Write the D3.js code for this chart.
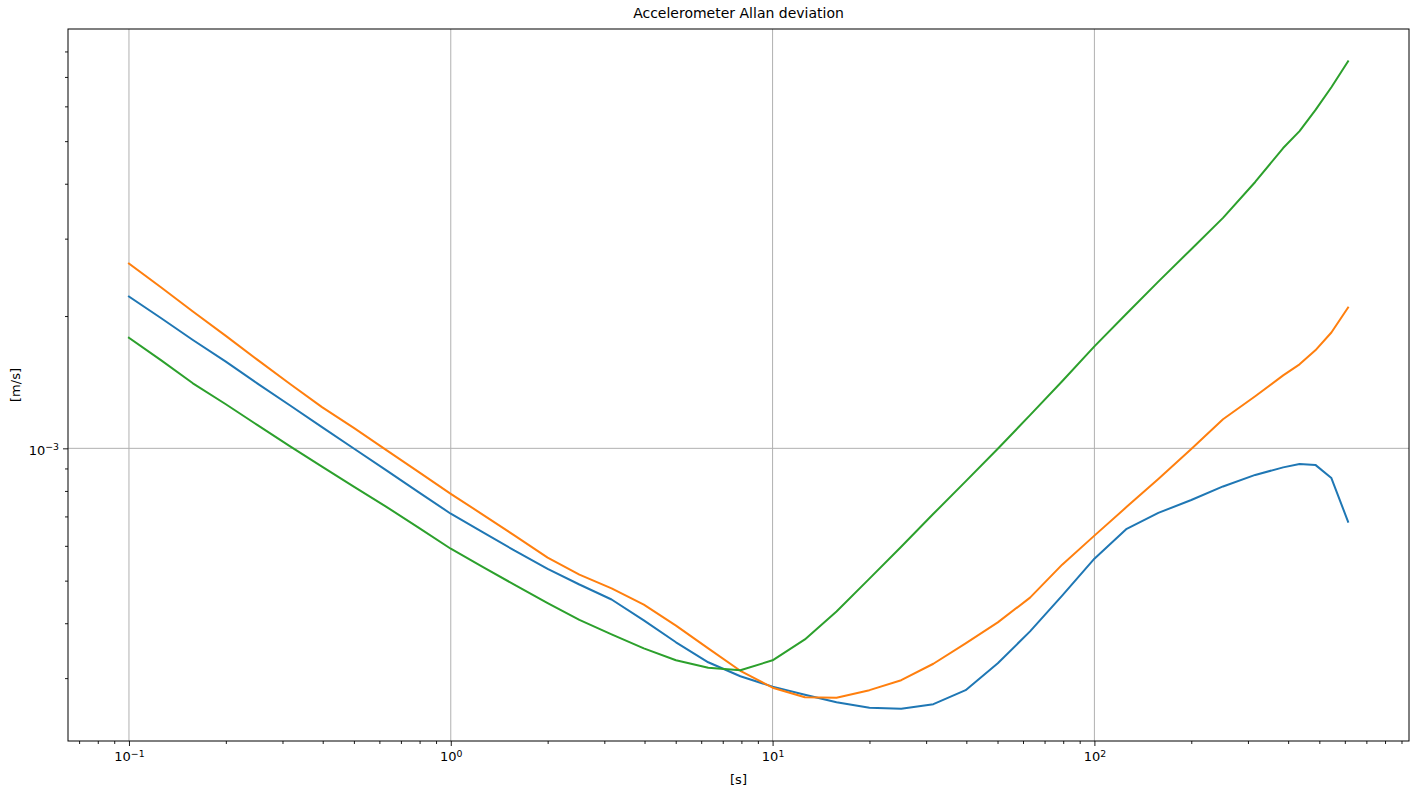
<!DOCTYPE html>
<html>
<head>
<meta charset="utf-8">
<script src="https://cdn.jsdelivr.net/npm/d3@7"></script>
<style>
  body { margin: 0; background: #fff; }
  svg { display: block; font-family: "DejaVu Sans", sans-serif; }
</style>
</head>
<body>
<svg id="chart" width="1416" height="792"></svg>
<script>
// averaging times [s]
const taus = [0.1, 0.126, 0.158, 0.2, 0.251, 0.316, 0.398, 0.501, 0.631, 0.794,
  1, 1.26, 1.58, 2, 2.51, 3.16, 3.98, 5.01, 6.31, 7.94,
  10, 12.6, 15.8, 20, 25.1, 31.6, 39.8, 50.1, 63.1, 79.4,
  100, 126, 158, 200, 251, 316, 386, 434, 486, 545, 614];

// allan deviation per axis [m/s]
const devX = [2.215e-3, 1.977e-3, 1.764e-3, 1.575e-3, 1.404e-3, 1.253e-3, 1.118e-3, 0.998e-3, 0.891e-3, 0.795e-3,
  0.710e-3, 0.644e-3, 0.585e-3, 0.532e-3, 0.490e-3, 0.453e-3, 0.406e-3, 0.362e-3, 0.326e-3, 0.303e-3,
  0.287e-3, 0.275e-3, 0.2645e-3, 0.257e-3, 0.2557e-3, 0.2618e-3, 0.2817e-3, 0.3243e-3, 0.3833e-3, 0.4624e-3,
  0.561e-3, 0.656e-3, 0.713e-3, 0.763e-3, 0.819e-3, 0.870e-3, 0.905e-3, 0.921e-3, 0.917e-3, 0.856e-3, 0.681e-3];
const devY = [2.632e-3, 2.322e-3, 2.048e-3, 1.803e-3, 1.590e-3, 1.403e-3, 1.241e-3, 1.112e-3, 0.991e-3, 0.884e-3,
  0.788e-3, 0.706e-3, 0.633e-3, 0.564e-3, 0.516e-3, 0.480e-3, 0.441e-3, 0.395e-3, 0.3506e-3, 0.3118e-3,
  0.2853e-3, 0.2715e-3, 0.2708e-3, 0.2817e-3, 0.2968e-3, 0.3235e-3, 0.3599e-3, 0.4018e-3, 0.4575e-3, 0.5437e-3,
  0.633e-3, 0.736e-3, 0.852e-3, 0.996e-3, 1.165e-3, 1.314e-3, 1.466e-3, 1.553e-3, 1.671e-3, 1.835e-3, 2.091e-3];
const devZ = [1.785e-3, 1.586e-3, 1.406e-3, 1.260e-3, 1.129e-3, 1.012e-3, 0.909e-3, 0.817e-3, 0.736e-3, 0.660e-3,
  0.591e-3, 0.537e-3, 0.489e-3, 0.4446e-3, 0.407e-3, 0.3772e-3, 0.3506e-3, 0.3294e-3, 0.3167e-3, 0.3126e-3,
  0.3294e-3, 0.3675e-3, 0.4254e-3, 0.5053e-3, 0.5974e-3, 0.7096e-3, 0.841e-3, 0.998e-3, 1.190e-3, 1.421e-3,
  1.706e-3, 2.027e-3, 2.395e-3, 2.839e-3, 3.345e-3, 4.037e-3, 4.823e-3, 5.270e-3, 5.881e-3, 6.631e-3, 7.595e-3];

const seriesColors = ["#1f77b4", "#ff7f0e", "#2ca02c"];
const xDecades = [0.1, 1, 10, 100];
const yDecades = [1e-3];

const svg = d3.select("#chart");
const margin = { top: 29, right: 7, bottom: 51, left: 68 };
const W = +svg.attr("width"), H = +svg.attr("height");
const iw = W - margin.left - margin.right, ih = H - margin.top - margin.bottom;

// matplotlib style 5% margin in log space
function logPad(ext) {
  const a = Math.log10(ext[0]), b = Math.log10(ext[1]), m = (b - a) * 0.05;
  return [Math.pow(10, a - m), Math.pow(10, b + m)];
}
const allDev = devX.concat(devY, devZ);
const x = d3.scaleLog().domain(logPad(d3.extent(taus))).range([0, iw]);
const y = d3.scaleLog().domain(logPad(d3.extent(allDev))).range([ih, 0]);

const g = svg.append("g").attr("transform", `translate(${margin.left},${margin.top})`);

// minor tick values inside the domain
function minors(scale) {
  const [lo, hi] = scale.domain();
  const out = [];
  for (let e = Math.floor(Math.log10(lo)); e <= Math.ceil(Math.log10(hi)); e++)
    for (let k = 2; k <= 9; k++) {
      const v = k * Math.pow(10, e);
      if (v >= lo && v <= hi) out.push(v);
    }
  return out;
}

// grid
g.append("g").selectAll("line").data(xDecades).join("line")
  .attr("x1", d => x(d)).attr("x2", d => x(d)).attr("y1", 0).attr("y2", ih)
  .attr("stroke", "#b0b0b0").attr("stroke-width", 1);
g.append("g").selectAll("line").data(yDecades).join("line")
  .attr("y1", d => y(d)).attr("y2", d => y(d)).attr("x1", 0).attr("x2", iw)
  .attr("stroke", "#b0b0b0").attr("stroke-width", 1);

// lines
const line = d3.line().x((d, i) => x(taus[i])).y(d => y(d));
[devX, devY, devZ].forEach((s, k) => {
  g.append("path").datum(s).attr("d", line)
    .attr("fill", "none").attr("stroke", seriesColors[k])
    .attr("stroke-width", 2).attr("stroke-linejoin", "round").attr("stroke-linecap", "square");
});

// axes
function supLabel(sel) {
  sel.each(function (d) {
    const e = Math.round(Math.log10(d));
    const t = d3.select(this).text(null);
    t.append("tspan").text("10");
    t.append("tspan").attr("dy", "-0.5em").attr("font-size", "0.72em")
      .text(e < 0 ? "\u2212" + (-e) : String(e));
  });
}

const xAxis = g.append("g").attr("transform", `translate(0,${ih})`)
  .call(d3.axisBottom(x).tickValues(xDecades).tickSize(5).tickPadding(6).tickFormat(() => ""));
xAxis.selectAll(".tick text").call(supLabel);
g.append("g").attr("transform", `translate(0,${ih})`)
  .call(d3.axisBottom(x).tickValues(minors(x)).tickSize(3).tickFormat(""))
  .call(a => a.select(".domain").remove());

const yAxis = g.append("g")
  .call(d3.axisLeft(y).tickValues(yDecades).tickSize(5).tickPadding(4).tickFormat(() => ""));
yAxis.selectAll(".tick text").call(supLabel).attr("dy", "0.45em");
g.append("g")
  .call(d3.axisLeft(y).tickValues(minors(y)).tickSize(3).tickFormat(""))
  .call(a => a.select(".domain").remove());

svg.selectAll(".tick text").attr("font-size", 13).attr("fill", "#000")
  .attr("font-family", "DejaVu Sans, sans-serif");
svg.selectAll(".tick line").attr("stroke", "#000").attr("stroke-width", 0.9);
svg.selectAll(".domain").remove();

// frame
g.append("rect").attr("width", iw).attr("height", ih)
  .attr("fill", "none").attr("stroke", "#000").attr("stroke-width", 1);

// titles
svg.append("text").attr("x", margin.left + iw / 2).attr("y", 18)
  .attr("text-anchor", "middle").attr("font-size", 14).text("Accelerometer Allan deviation");
svg.append("text").attr("x", margin.left + iw / 2).attr("y", 784)
  .attr("text-anchor", "middle").attr("font-size", 13).text("[s]");
svg.append("text").attr("transform", `translate(20,${margin.top + ih / 2}) rotate(-90)`)
  .attr("text-anchor", "middle").attr("font-size", 13).text("[m/s]");
</script>
</body>
</html>
